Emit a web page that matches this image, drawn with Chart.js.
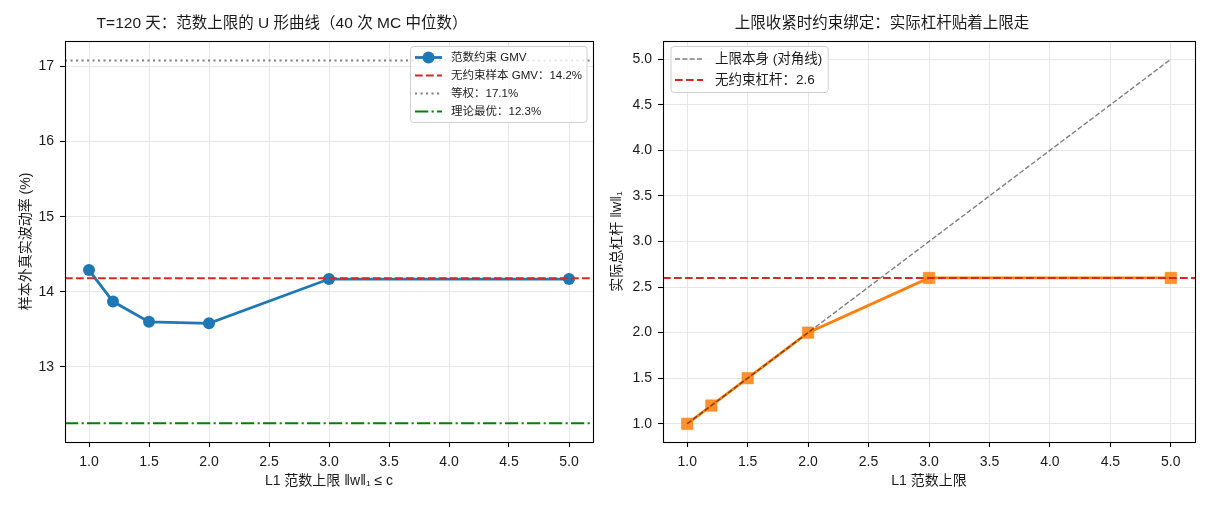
<!DOCTYPE html>
<html>
<head>
<meta charset="utf-8">
<script src="https://cdn.jsdelivr.net/npm/chart.js@4/dist/chart.umd.min.js"></script>
<style>
  html, body { margin: 0; padding: 0; background: #fff; }
  #wrap { display: flex; width: 1210px; height: 505px; }
  canvas { display: block; }
</style>
</head>
<body>
<div id="wrap">
  <canvas id="left" width="605" height="505"></canvas>
  <canvas id="right" width="605" height="505"></canvas>
</div>
<script>
// ---- data ----
const caps = [1.0, 1.2, 1.5, 2.0, 3.0, 5.0];
const gmvVol = [14.29, 13.87, 13.60, 13.58, 14.17, 14.17];
const unconstrainedVol = 14.18;
const equalWeightVol = 17.08;
const optimalVol = 12.25;

const actualLeverage = [1.0, 1.2, 1.5, 2.0, 2.6, 2.6];
const diagonal = [1.0, 5.0];
const unconstrainedLev = 2.6;

const xTicks = [1.0, 1.5, 2.0, 2.5, 3.0, 3.5, 4.0, 4.5, 5.0];
const leftYTicks = [13, 14, 15, 16, 17];
const rightYTicks = [1.0, 1.5, 2.0, 2.5, 3.0, 3.5, 4.0, 4.5, 5.0];
const xRange = [0.8, 5.2];
const leftYRange = [12.0, 17.34];
const rightYRange = [0.8, 5.2];

const FONT = '"Liberation Sans", "Noto Sans CJK SC", sans-serif';
const TEXT = '#1a1a1a';
const GRID = '#e6e6e6';

// title drawn over the axes (matplotlib put it a bit left of centre)
function titlePlugin(text, dx) {
  return {
    id: 'plotTitle',
    afterDraw(chart) {
      const ctx = chart.ctx, a = chart.chartArea;
      ctx.save();
      ctx.font = '15.5px ' + FONT;
      ctx.fillStyle = TEXT;
      ctx.textAlign = 'center';
      ctx.textBaseline = 'middle';
      ctx.fillText(text, (a.left + a.right) / 2 + dx, 24);
      ctx.restore();
    }
  };
}

// full box round the axes
const framePlugin = {
  id: 'frame',
  afterDatasetsDraw(chart) {
    const ctx = chart.ctx, a = chart.chartArea;
    ctx.save();
    ctx.strokeStyle = '#000';
    ctx.lineWidth = 1.1;
    ctx.strokeRect(Math.round(a.left) + 0.5, Math.round(a.top) + 0.5,
                   Math.round(a.right - a.left), Math.round(a.bottom - a.top));
    ctx.restore();
  }
};

// legend box inside the axes
function legendPlugin(cfg) {
  return {
    id: 'boxLegend',
    afterDraw(chart) {
      const ctx = chart.ctx, a = chart.chartArea;
      const items = chart.data.datasets.filter(d => d.inLegend);
      ctx.save();
      ctx.font = cfg.size + 'px ' + FONT;
      const textW = Math.max(...items.map(d => ctx.measureText(d.label).width));
      const w = cfg.padX + cfg.sample + cfg.gap + textW + cfg.padR;
      const h = cfg.rowH * items.length + cfg.padY * 2;
      const x0 = cfg.side === 'right' ? a.right - cfg.margin - w : a.left + cfg.margin;
      const y0 = a.top + cfg.marginTop;
      ctx.beginPath();
      ctx.roundRect(x0, y0, w, h, 3);
      ctx.fillStyle = 'rgba(255,255,255,0.8)';
      ctx.fill();
      ctx.strokeStyle = '#d0d0d0';
      ctx.lineWidth = 1;
      ctx.stroke();
      items.forEach((d, i) => {
        const cy = y0 + cfg.padY + cfg.rowH * (i + 0.5);
        const sx = x0 + cfg.padX;
        ctx.beginPath();
        ctx.setLineDash(d.borderDash || []);
        ctx.strokeStyle = d.borderColor;
        ctx.lineWidth = d.borderWidth;
        ctx.moveTo(sx, cy);
        ctx.lineTo(sx + cfg.sample, cy);
        ctx.stroke();
        ctx.setLineDash([]);
        if (d.pointRadius > 0) {
          ctx.beginPath();
          ctx.arc(sx + cfg.sample / 2, cy, d.pointRadius, 0, Math.PI * 2);
          ctx.fillStyle = d.pointBackgroundColor;
          ctx.fill();
        }
        ctx.fillStyle = TEXT;
        ctx.textAlign = 'left';
        ctx.textBaseline = 'middle';
        ctx.fillText(d.label, sx + cfg.sample + cfg.gap, cy + 0.5);
      });
      ctx.restore();
    }
  };
}

function scale(range, ticks, fmt, title, titlePad, isX, size) {
  return {
    type: 'linear',
    min: range[0],
    max: range[1],
    afterBuildTicks: s => { s.ticks = ticks.map(v => ({ value: v })); },
    afterFit: s => { if (isX) s.height = size; else s.width = size; },
    grid: { color: GRID, lineWidth: 1, tickLength: 5, tickColor: '#000', tickWidth: 1.1 },
    border: { display: false },
    ticks: {
      callback: v => fmt(v),
      font: { family: FONT, size: 14 },
      color: TEXT,
      padding: isX ? 7 : 6,
      maxRotation: 0,
      autoSkip: false
    },
    title: {
      display: true,
      text: title,
      font: { family: FONT, size: 14 },
      color: TEXT,
      padding: titlePad
    }
  };
}

const hline = (v) => xRange.map(x => ({ x, y: v }));
const pts = (xs, ys) => xs.map((x, i) => ({ x, y: ys[i] }));

const common = {
  responsive: false,
  animation: false,
  events: [],
  plugins: { legend: { display: false }, tooltip: { enabled: false }, title: { display: false } }
};

new Chart(document.getElementById('left'), {
  type: 'line',
  data: {
    datasets: [
      {
        label: '范数约束 GMV', inLegend: true,
        data: pts(caps, gmvVol),
        borderColor: '#1f77b4', borderWidth: 2.8,
        pointRadius: 6, pointBackgroundColor: '#1f77b4', pointBorderWidth: 0,
        tension: 0, order: 5
      },
      {
        label: '无约束样本 GMV：14.2%', inLegend: true,
        data: hline(unconstrainedVol),
        borderColor: '#d62728', borderWidth: 2, borderDash: [7.7, 3.3],
        pointRadius: 0, order: 4
      },
      {
        label: '等权：17.1%', inLegend: true,
        data: hline(equalWeightVol),
        borderColor: '#808080', borderWidth: 2, borderDash: [2.1, 3.4],
        pointRadius: 0, order: 3
      },
      {
        label: '理论最优：12.3%', inLegend: true,
        data: hline(optimalVol),
        borderColor: '#008000', borderWidth: 2, borderDash: [13.3, 3.3, 2.1, 3.3],
        pointRadius: 0, order: 2
      }
    ]
  },
  options: {
    ...common,
    layout: { padding: { left: 10, right: 12, top: 41, bottom: 0 } },
    scales: {
      x: scale(xRange, xTicks, v => v.toFixed(1), 'L1 范数上限 ‖w‖₁ ≤ c', { top: 0, bottom: 15 }, true, 63),
      y: scale(leftYRange, leftYTicks, v => String(v), '样本外真实波动率 (%)', { top: 8, bottom: 0 }, false, 55)
    }
  },
  plugins: [framePlugin, titlePlugin('T=120 天：范数上限的 U 形曲线（40 次 MC 中位数）', -47),
    legendPlugin({ side: 'right', margin: 6, marginTop: 5.5, size: 11.5, rowH: 18, padY: 2, padX: 4.5, padR: 5, sample: 27, gap: 9 })]
});

new Chart(document.getElementById('right'), {
  type: 'line',
  data: {
    datasets: [
      {
        label: '实际杠杆',
        data: pts(caps, actualLeverage),
        borderColor: '#ff7f0e', borderWidth: 2.8,
        pointStyle: 'rect', pointRadius: 8,
        pointBackgroundColor: 'rgba(255,127,14,0.85)', pointBorderColor: 'rgba(255,127,14,0.6)', pointBorderWidth: 1,
        tension: 0, order: 5
      },
      {
        label: '上限本身 (对角线)', inLegend: true,
        data: pts(diagonal, diagonal),
        borderColor: 'rgba(0,0,0,0.5)', borderWidth: 1.4, borderDash: [5.1, 2.2],
        pointRadius: 0, order: 4
      },
      {
        label: '无约束杠杆：2.6', inLegend: true,
        data: hline(unconstrainedLev),
        borderColor: '#d62728', borderWidth: 2, borderDash: [7.7, 3.3],
        pointRadius: 0, order: 3
      }
    ]
  },
  options: {
    ...common,
    layout: { padding: { left: 3, right: 15, top: 41, bottom: 0 } },
    scales: {
      x: scale(xRange, xTicks, v => v.toFixed(1), 'L1 范数上限', { top: 0, bottom: 15 }, true, 63),
      y: scale(rightYRange, rightYTicks, v => v.toFixed(1), '实际总杠杆 ‖w‖₁', { top: 1, bottom: 0 }, false, 55)
    }
  },
  plugins: [framePlugin, titlePlugin('上限收紧时约束绑定：实际杠杆贴着上限走', -47),
    legendPlugin({ side: 'left', margin: 8, marginTop: 5.5, size: 13.5, rowH: 21, padY: 2, padX: 4, padR: 6, sample: 28, gap: 12 })]
});
</script>
</body>
</html>
